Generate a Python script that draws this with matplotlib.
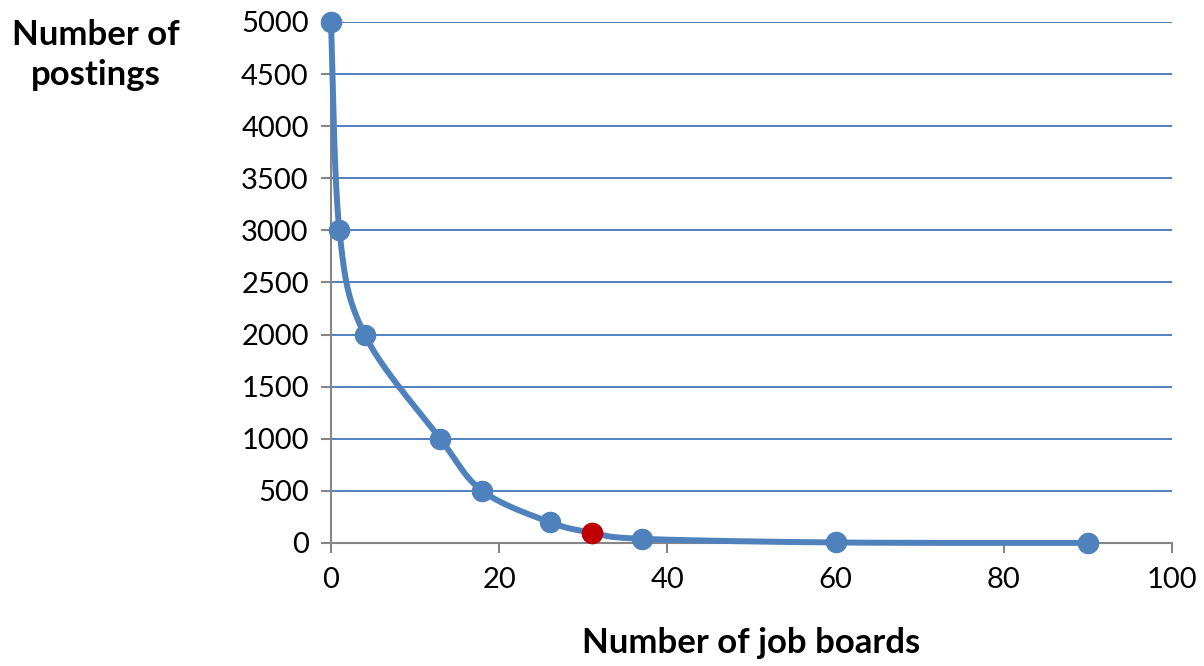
import numpy as np
import matplotlib
matplotlib.use("Agg")
import matplotlib.pyplot as plt

# Postings vs. number of job boards
job_boards = [0, 1, 4, 13, 18, 26, 31, 37, 60, 90]
postings = [5000, 3000, 2000, 1000, 500, 200, 100, 40, 5, 1]
highlight_index = 6

x_ticks = [0, 20, 40, 60, 80, 100]
y_ticks = list(range(0, 5001, 500))

blue = "#4f81bd"
red = "#c00000"
grey = "#868686"
plt.rcParams["font.family"] = ["Lato", "DejaVu Sans"]


def smooth_curve(xs, ys, steps=40):
    """Bezier smoothing through the given points."""
    p = np.column_stack([xs, ys]).astype(float)
    p = np.vstack([p[0], p, p[-1]])
    out = []
    for i in range(1, len(p) - 2):
        p0, p1, p2, p3 = p[i - 1], p[i], p[i + 1], p[i + 2]
        t = np.linspace(0, 1, steps)[:, None]
        c1 = p1 + (p2 - p0) / 6.0
        c2 = p2 - (p3 - p1) / 6.0
        seg = ((1 - t) ** 3) * p1 + 3 * ((1 - t) ** 2) * t * c1 + 3 * (1 - t) * t ** 2 * c2 + t ** 3 * p2
        out.append(seg)
    out = np.vstack(out)
    return out[:, 0], out[:, 1]


fig = plt.figure(figsize=(12.04, 6.66), dpi=100)
ax = fig.add_axes([0.2749, 0.1847, 0.6985, 0.7823])

ax.set_xlim(0, 100)
ax.set_ylim(0, 5000)
ax.set_xticks(x_ticks)
ax.set_yticks(y_ticks)
ax.yaxis.grid(True, color=blue, linewidth=1.4)
ax.set_axisbelow(True)

sx, sy = smooth_curve(job_boards, postings)
ax.plot(sx, sy, color=blue, linewidth=4.3, solid_capstyle="round", clip_on=False, zorder=3)
ax.plot(job_boards, postings, "o", color=blue, markersize=14.5, clip_on=False, zorder=4)
ax.plot(job_boards[highlight_index], postings[highlight_index], "o", color=red,
        markersize=14.5, clip_on=False, zorder=5)

for side in ("top", "right"):
    ax.spines[side].set_visible(False)
for side in ("left", "bottom"):
    ax.spines[side].set_color(grey)
    ax.spines[side].set_linewidth(1.5)

ax.tick_params(axis="both", colors=grey, width=1.5, length=7, direction="out",
               labelcolor="black", labelsize=21)
ax.tick_params(axis="y", pad=9)
ax.tick_params(axis="x", pad=10)

fig.text(0.0795, 0.918, "Number of\npostings", ha="center", va="center",
         fontsize=25, fontweight="bold", linespacing=1.3)
ax.set_xlabel("Number of job boards", fontsize=25, fontweight="bold", labelpad=25)

fig.savefig("out.png", dpi=100)
